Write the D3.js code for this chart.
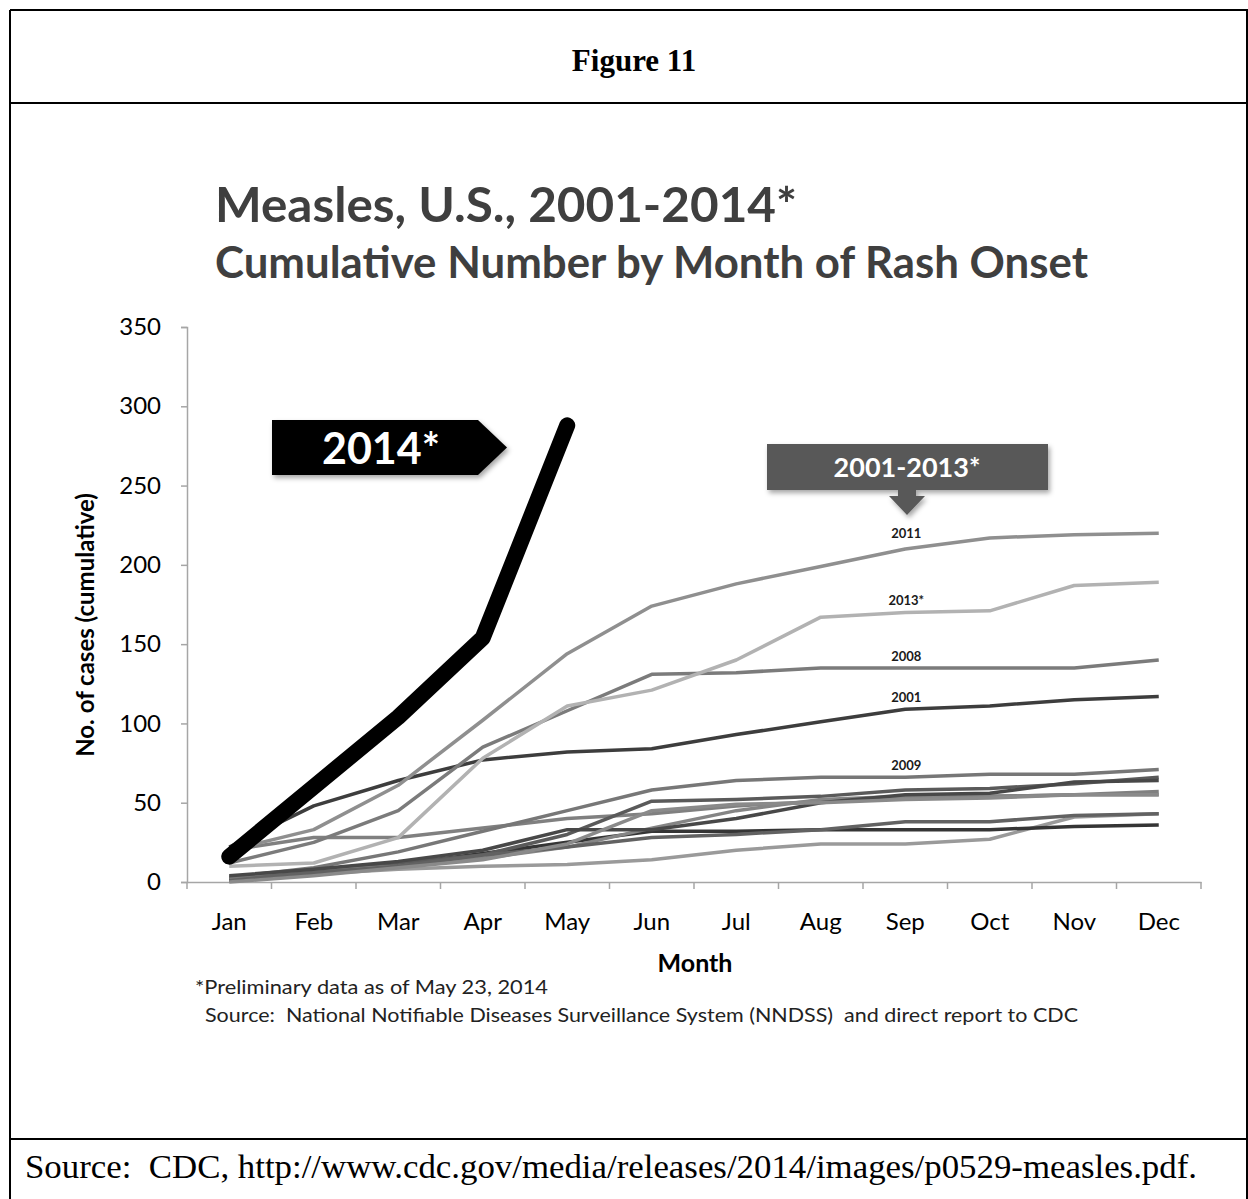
<!DOCTYPE html>
<html>
<head>
<meta charset="utf-8">
<script src="https://cdn.jsdelivr.net/npm/d3@7"></script>
<style>
  body { margin: 0; background: #fff; }
  svg { display: block; }
</style>
</head>
<body>
<script>
// Months on the x axis
var months = ["Jan", "Feb", "Mar", "Apr", "May", "Jun", "Jul", "Aug", "Sep", "Oct", "Nov", "Dec"];
var yTicks = [0, 50, 100, 150, 200, 250, 300, 350];

// Cumulative cases by month, one array per year
var years = ["2001", "2002", "2003", "2004", "2005", "2006", "2007", "2008", "2009", "2010", "2011", "2012", "2013"];
var cases2001 = [22, 48, 64, 77, 82, 84, 93, 101, 109, 111, 115, 117];
var cases2002 = [2, 5, 8, 10, 11, 14, 20, 24, 24, 27, 41, 43];
var cases2003 = [20, 28, 28, 34, 40, 43, 48, 51, 53, 54, 55, 57];
var cases2004 = [1, 5, 11, 18, 25, 32, 32, 33, 33, 33, 35, 36];
var cases2005 = [2, 6, 12, 17, 30, 51, 52, 54, 58, 59, 62, 66];
var cases2006 = [3, 7, 10, 15, 22, 34, 45, 52, 54, 54, 55, 55];
var cases2007 = [2, 6, 10, 17, 22, 28, 30, 33, 38, 38, 42, 43];
var cases2008 = [12, 25, 45, 85, 108, 131, 132, 135, 135, 135, 135, 140];
var cases2009 = [3, 9, 19, 32, 45, 58, 64, 66, 66, 68, 68, 71];
var cases2010 = [4, 8, 13, 20, 33, 33, 40, 50, 55, 56, 63, 64];
var cases2011 = [20, 33, 61, 102, 144, 174, 188, 199, 210, 217, 219, 220];
var cases2012 = [0, 4, 9, 14, 24, 45, 49, 50, 52, 53, 55, 55];
var cases2013 = [10, 12, 28, 78, 111, 121, 140, 167, 170, 171, 187, 189];
var cases2014 = [16, 60, 104, 154, 288];

// years that get a small label above their line, and the label text
var labelledYears = ["2011", "2013", "2008", "2001", "2009"];
var labelText = { "2011": "2011", "2013": "2013*", "2008": "2008", "2001": "2001", "2009": "2009" };

var seriesByYear = {
  "2001": cases2001, "2002": cases2002, "2003": cases2003, "2004": cases2004,
  "2005": cases2005, "2006": cases2006, "2007": cases2007, "2008": cases2008,
  "2009": cases2009, "2010": cases2010, "2011": cases2011, "2012": cases2012,
  "2013": cases2013
};

// shades of gray for the older years
var grayOf = {
  "2001": "#3d3d3d", "2002": "#9a9a9a", "2003": "#808080", "2004": "#353535",
  "2005": "#5a5a5a", "2006": "#858585", "2007": "#626262", "2008": "#7b7b7b",
  "2009": "#777777", "2010": "#484848", "2011": "#8f8f8f", "2012": "#8a8a8a",
  "2013": "#b2b2b2"
};

var svgWidth = 1248;
var svgHeight = 1199;

var svg = d3.select("body")
  .append("svg")
  .attr("width", svgWidth)
  .attr("height", svgHeight);

svg.append("rect")
  .attr("width", svgWidth)
  .attr("height", svgHeight)
  .attr("fill", "#fff");

// drop shadow for the two call-out boxes
var defs = svg.append("defs");
defs.append("filter")
  .attr("id", "shadow")
  .attr("x", "-10%").attr("y", "-20%")
  .attr("width", "130%").attr("height", "160%")
  .append("feDropShadow")
  .attr("dx", 2).attr("dy", 3)
  .attr("stdDeviation", 2.5)
  .attr("flood-color", "#000")
  .attr("flood-opacity", 0.35);

// Frame of the figure (table cells)
var frame = svg.append("g")
  .attr("stroke", "#000")
  .attr("stroke-width", 2);
frame.append("line").attr("x1", 10).attr("x2", 1248).attr("y1", 10).attr("y2", 10);
frame.append("line").attr("x1", 10).attr("x2", 10).attr("y1", 10).attr("y2", 1199);
frame.append("line").attr("x1", 1247).attr("x2", 1247).attr("y1", 10).attr("y2", 1199);
frame.append("line").attr("x1", 10).attr("x2", 1248).attr("y1", 103).attr("y2", 103);
frame.append("line").attr("x1", 10).attr("x2", 1248).attr("y1", 1139).attr("y2", 1139);

svg.append("text")
  .attr("x", 634)
  .attr("y", 71)
  .attr("text-anchor", "middle")
  .attr("font-family", "Liberation Serif, Times New Roman, serif")
  .attr("font-weight", "bold")
  .attr("font-size", 31)
  .text("Figure 11");

svg.append("text")
  .attr("x", 25)
  .attr("y", 1178)
  .attr("font-family", "Liberation Serif, Times New Roman, serif")
  .attr("font-size", 33)
  .attr("xml:space", "preserve")
  .attr("textLength", 1172)
  .attr("lengthAdjust", "spacingAndGlyphs")
  .text("Source:  CDC, http://www.cdc.gov/media/releases/2014/images/p0529-measles.pdf.");

// Titles
var sans = "Lato, 'Open Sans', sans-serif";
svg.append("text")
  .attr("x", 215)
  .attr("y", 222)
  .attr("font-family", sans)
  .attr("font-weight", "bold")
  .attr("font-size", 48)
  .attr("fill", "#3f3f3f")
  .attr("textLength", 582)
  .attr("lengthAdjust", "spacingAndGlyphs")
  .text("Measles, U.S., 2001-2014*");

svg.append("text")
  .attr("x", 215)
  .attr("y", 278)
  .attr("font-family", sans)
  .attr("font-weight", "bold")
  .attr("font-size", 44)
  .attr("fill", "#3f3f3f")
  .attr("textLength", 873)
  .attr("lengthAdjust", "spacingAndGlyphs")
  .text("Cumulative Number by Month of Rash Onset");

// Scales
var xBand = d3.scaleBand()
  .domain(months)
  .range([187, 1201])
  .padding(0);

function xCenter(m) {
  return xBand(m) + xBand.bandwidth() / 2;
}

var yLinearScale = d3.scaleLinear()
  .domain([0, 350])
  .range([882, 327]);

var axisColor = "#a6a6a6";

// left axis
var leftAxis = d3.axisLeft(yLinearScale)
  .tickValues(yTicks)
  .tickSize(6)
  .tickPadding(20);

var gy = svg.append("g")
  .attr("transform", "translate(187,0)")
  .call(leftAxis);
gy.select(".domain").attr("stroke", axisColor).attr("stroke-width", 1.5);
gy.selectAll(".tick line").attr("stroke", axisColor).attr("stroke-width", 1.5);
gy.selectAll(".tick text")
  .attr("font-family", sans)
  .attr("font-size", 24)
  .attr("fill", "#000");

// bottom axis: labels at the band centres, tick marks on the band edges
var bottomAxis = d3.axisBottom(xBand)
  .tickSize(0)
  .tickPadding(31);

var gx = svg.append("g")
  .attr("transform", "translate(0,882)")
  .call(bottomAxis);
gx.select(".domain").attr("stroke", axisColor).attr("stroke-width", 1.5);
gx.selectAll(".tick text")
  .attr("font-family", sans)
  .attr("font-size", 24)
  .attr("fill", "#000");

var edges = months.map(function(m) { return xBand(m); }).concat([xBand.range()[1]]);
gx.selectAll(".edge")
  .data(edges)
  .enter()
  .append("line")
  .attr("class", "edge")
  .attr("x1", function(d) { return d; })
  .attr("x2", function(d) { return d; })
  .attr("y1", 0)
  .attr("y2", 7)
  .attr("stroke", axisColor)
  .attr("stroke-width", 1.5);

// axis titles
svg.append("text")
  .attr("transform", "translate(94,625) rotate(-90)")
  .attr("text-anchor", "middle")
  .attr("font-family", sans)
  .attr("font-weight", "bold")
  .attr("font-size", 24)
  .text("No. of cases (cumulative)");

svg.append("text")
  .attr("x", 695)
  .attr("y", 972)
  .attr("text-anchor", "middle")
  .attr("font-family", sans)
  .attr("font-weight", "bold")
  .attr("font-size", 25)
  .text("Month");

svg.append("text")
  .attr("x", 195)
  .attr("y", 994)
  .attr("font-family", sans)
  .attr("font-size", 20)
  .attr("fill", "#222")
  .attr("textLength", 353)
  .attr("lengthAdjust", "spacingAndGlyphs")
  .text("*Preliminary data as of May 23, 2014");

svg.append("text")
  .attr("x", 205)
  .attr("y", 1022)
  .attr("font-family", sans)
  .attr("font-size", 20)
  .attr("fill", "#222")
  .attr("xml:space", "preserve")
  .attr("textLength", 873)
  .attr("lengthAdjust", "spacingAndGlyphs")
  .text("Source:  National Notifiable Diseases Surveillance System (NNDSS)  and direct report to CDC");

// line generator
var drawLine = d3.line()
  .x(function(d, i) { return xCenter(months[i]); })
  .y(function(d) { return yLinearScale(d); });

var linesGroup = svg.append("g").attr("fill", "none");

linesGroup.selectAll(".year")
  .data(years)
  .enter()
  .append("path")
  .attr("class", "year")
  .attr("d", function(y) { return drawLine(seriesByYear[y]); })
  .attr("stroke", function(y) { return grayOf[y]; })
  .attr("stroke-width", 3.5)
  .attr("stroke-linejoin", "round");

// year labels, placed over the September point
svg.selectAll(".yearLabel")
  .data(labelledYears)
  .enter()
  .append("text")
  .attr("class", "yearLabel")
  .attr("x", xCenter("Sep") + 1)
  .attr("y", function(y) { return yLinearScale(seriesByYear[y][8]) - (y === "2011" ? 11 : 7); })
  .attr("text-anchor", "middle")
  .attr("font-family", sans)
  .attr("font-weight", "bold")
  .attr("font-size", 13)
  .attr("fill", "#1a1a1a")
  .text(function(y) { return labelText[y]; });

// 2014, thick black line
linesGroup.append("path")
  .attr("d", drawLine(cases2014))
  .attr("stroke", "#000")
  .attr("stroke-width", 16)
  .attr("stroke-linecap", "round")
  .attr("stroke-linejoin", "round");

// Call-out: 2014* (pentagon arrow)
var c14 = { left: 272, right: 478, tip: 507, top: 420, bottom: 475 };
svg.append("path")
  .attr("d", "M" + c14.left + "," + c14.top +
    "L" + c14.right + "," + c14.top +
    "L" + c14.tip + "," + ((c14.top + c14.bottom) / 2) +
    "L" + c14.right + "," + c14.bottom +
    "L" + c14.left + "," + c14.bottom + "Z")
  .attr("fill", "#000")
  .attr("filter", "url(#shadow)");
svg.append("text")
  .attr("x", 381)
  .attr("y", 464)
  .attr("text-anchor", "middle")
  .attr("font-family", sans)
  .attr("font-weight", "bold")
  .attr("font-size", 43)
  .attr("fill", "#fff")
  .text("2014*");

// Call-out: 2001-2013* (box with down arrow)
var c13 = { left: 767, right: 1048, top: 444, bottom: 490, cx: 907 };
svg.append("path")
  .attr("d", "M" + c13.left + "," + c13.top +
    "L" + c13.right + "," + c13.top +
    "L" + c13.right + "," + c13.bottom +
    "L" + (c13.cx + 9) + "," + c13.bottom +
    "L" + (c13.cx + 9) + "," + (c13.bottom + 6) +
    "L" + (c13.cx + 18) + "," + (c13.bottom + 6) +
    "L" + c13.cx + "," + (c13.bottom + 25) +
    "L" + (c13.cx - 18) + "," + (c13.bottom + 6) +
    "L" + (c13.cx - 9) + "," + (c13.bottom + 6) +
    "L" + (c13.cx - 9) + "," + c13.bottom +
    "L" + c13.left + "," + c13.bottom + "Z")
  .attr("fill", "#595959")
  .attr("filter", "url(#shadow)");
svg.append("text")
  .attr("x", c13.cx)
  .attr("y", 477)
  .attr("text-anchor", "middle")
  .attr("font-family", sans)
  .attr("font-weight", "bold")
  .attr("font-size", 27)
  .attr("fill", "#fff")
  .text("2001-2013*");
</script>
</body>
</html>
